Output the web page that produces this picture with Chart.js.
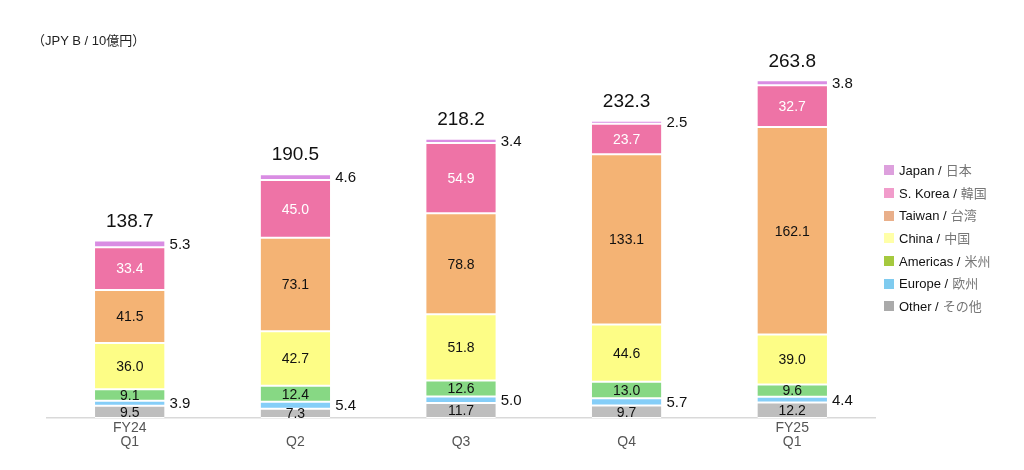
<!DOCTYPE html>
<html>
<head>
<meta charset="utf-8">
<script src="https://cdn.jsdelivr.net/npm/chart.js@4"></script>
<style>
  body { margin: 0; background: #fff; font-family: "Liberation Sans", Arial, sans-serif; }
  #wrap { position: relative; width: 1024px; height: 470px; }
  #unit { position: absolute; left: 32px; top: 30px; font-size: 13px; color: #222; font-family: "Liberation Sans", "Noto Sans CJK JP", sans-serif; }
  #legend { position: absolute; left: 884px; top: 159px; font-size: 13px; font-family: "Liberation Sans", "Noto Sans CJK JP", sans-serif; }
  .item { height: 22.7px; display: flex; align-items: center; white-space: nowrap; line-height: 1; }
  .box { width: 10px; height: 10px; margin-right: 5px; }
  .en { color: #111; }
  .ja { color: #777; margin-left: 4px; }
</style>
</head>
<body>
<div id="wrap">
  <canvas id="chart" width="1024" height="470"></canvas>
  <div id="unit">（JPY B / 10億円）</div>
  <div id="legend"></div>
</div>
<script>
// --- данные ---
const quarters = [['FY24', 'Q1'], ['', 'Q2'], ['', 'Q3'], ['', 'Q4'], ['FY25', 'Q1']];
const other    = [9.5, 7.3, 11.7, 9.7, 12.2];
const europe   = [3.9, 5.4, 5.0, 5.7, 4.4];
const americas = [9.1, 12.4, 12.6, 13.0, 9.6];
const china    = [36.0, 42.7, 51.8, 44.6, 39.0];
const taiwan   = [41.5, 73.1, 78.8, 133.1, 162.1];
const korea    = [33.4, 45.0, 54.9, 23.7, 32.7];
const japan    = [5.3, 4.6, 3.4, 2.5, 3.8];
const totals   = [138.7, 190.5, 218.2, 232.3, 263.8];

// снизу вверх
const series = [
    { en: 'Other',    ja: 'その他', data: other,    color: '#bebebe', legend: '#aaaaaa', label: 'in',  text: '#111' },
    { en: 'Europe',   ja: '欧州',   data: europe,   color: '#85cef8', legend: '#7fcbef', label: 'out', text: '#111' },
    { en: 'Americas', ja: '米州',   data: americas, color: '#87d884', legend: '#a5c93e', label: 'in',  text: '#111' },
    { en: 'China',    ja: '中国',   data: china,    color: '#fdfd86', legend: '#ffffa8', label: 'in',  text: '#111' },
    { en: 'Taiwan',   ja: '台湾',   data: taiwan,   color: '#f4b374', legend: '#e9af8a', label: 'in',  text: '#111' },
    { en: 'S. Korea', ja: '韓国',   data: korea,    color: '#ee73a6', legend: '#f19ccb', label: 'in',  text: '#fff' },
    { en: 'Japan',    ja: '日本',   data: japan,    color: '#d98de3', legend: '#dda0dd', label: 'out', text: '#111' }
];

// легенда (сверху вниз)
const legendEl = document.getElementById('legend');
series.slice().reverse().forEach(s => {
    legendEl.innerHTML += `<div class="item"><span class="box" style="background:${s.legend}"></span>` +
        `<span class="en">${s.en} /</span><span class="ja">${s.ja}</span></div>`;
});

// подписи значений
const valueLabels = {
    id: 'valueLabels',
    afterDatasetsDraw(chart) {
        const ctx = chart.ctx;
        ctx.save();
        ctx.textBaseline = 'middle';
        series.forEach((s, i) => {
            const meta = chart.getDatasetMeta(i);
            meta.data.forEach((bar, j) => {
                const cy = (bar.y + bar.base) / 2;
                const txt = s.data[j].toFixed(1);
                ctx.fillStyle = s.text;
                if (s.label === 'in') {
                    ctx.textAlign = 'center';
                    ctx.font = '14px "Liberation Sans", Arial, sans-serif';
                    ctx.fillText(txt, bar.x, cy + 1);
                } else {
                    ctx.textAlign = 'left';
                    ctx.font = '15px "Liberation Sans", Arial, sans-serif';
                    ctx.fillText(txt, bar.x + bar.width / 2 + 5, cy + 1);
                }
            });
        });
        // итоги
        const top = chart.getDatasetMeta(series.length - 1);
        top.data.forEach((bar, j) => {
            ctx.fillStyle = '#111';
            ctx.textAlign = 'center';
            ctx.font = '19px "Liberation Sans", Arial, sans-serif';
            ctx.fillText(totals[j].toFixed(1), bar.x, bar.y - 19);
        });
        ctx.restore();
    }
};

new Chart(document.getElementById('chart'), {
    type: 'bar',
    data: {
        labels: quarters,
        datasets: series.map(s => ({
            label: s.en,
            data: s.data,
            backgroundColor: s.color,
            borderColor: '#ffffff',
            borderWidth: { top: 1, bottom: 1, left: 0, right: 0 },
            borderSkipped: false,
            barPercentage: 0.42,
            categoryPercentage: 1
        }))
    },
    options: {
        responsive: false,
        animation: false,
        layout: { padding: { left: 47, right: 149, top: 34, bottom: 18 } },
        plugins: { legend: { display: false }, tooltip: { enabled: false } },
        scales: {
            x: {
                stacked: true,
                grid: { display: false, drawTicks: false },
                border: { color: '#d9d9d9', width: 1.5 },
                ticks: { color: '#555', font: { size: 14, family: '"Liberation Sans", Arial, sans-serif', lineHeight: 1.0 }, padding: 3 }
            },
            y: {
                stacked: true,
                display: false,
                min: 0,
                max: 300
            }
        }
    },
    plugins: [valueLabels]
});
</script>
</body>
</html>
